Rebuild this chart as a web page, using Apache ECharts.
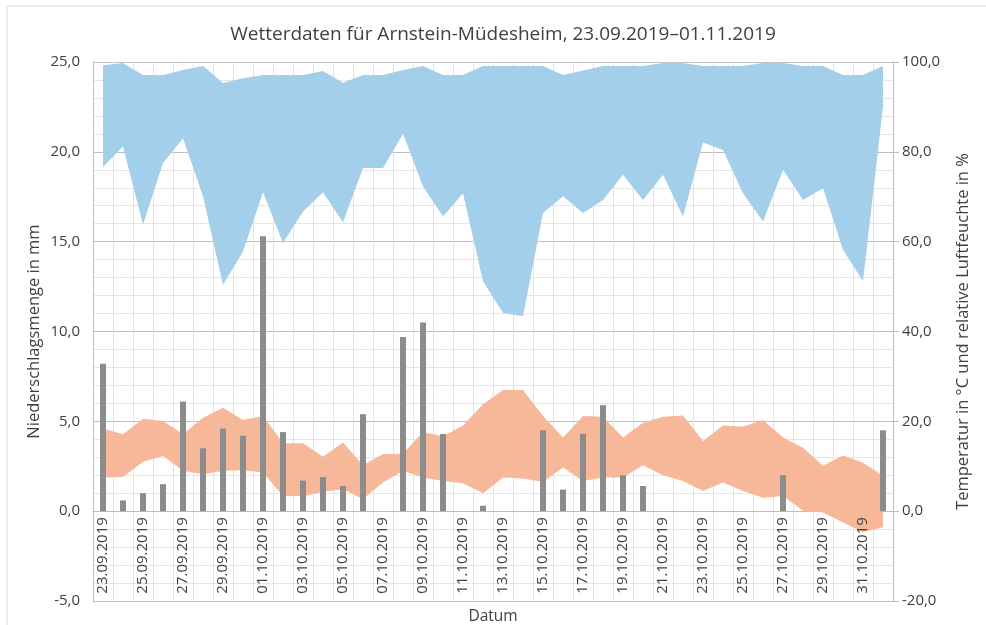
<!DOCTYPE html>
<html>
<head>
<meta charset="utf-8">
<script src="https://cdn.jsdelivr.net/npm/echarts@6/dist/echarts.min.js"></script>
<style>
html,body{margin:0;padding:0;background:#fff;}
#chart{width:986px;height:625px;}
</style>
</head>
<body>
<div id="chart"></div>
<script>
var dates = ['23.09.2019','24.09.2019','25.09.2019','26.09.2019','27.09.2019','28.09.2019','29.09.2019','30.09.2019',
  '01.10.2019','02.10.2019','03.10.2019','04.10.2019','05.10.2019','06.10.2019','07.10.2019','08.10.2019',
  '09.10.2019','10.10.2019','11.10.2019','12.10.2019','13.10.2019','14.10.2019','15.10.2019','16.10.2019',
  '17.10.2019','18.10.2019','19.10.2019','20.10.2019','21.10.2019','22.10.2019','23.10.2019','24.10.2019',
  '25.10.2019','26.10.2019','27.10.2019','28.10.2019','29.10.2019','30.10.2019','31.10.2019','01.11.2019'];

var precip = [8.2,0.6,1.0,1.5,6.1,3.5,4.6,4.2,15.3,4.4,1.7,1.9,1.4,5.4,0,9.7,10.5,4.3,0,0.3,
  0,0,4.5,1.2,4.3,5.9,2.0,1.4,0,0,0,0,0,0,2.0,0,0,0,0,4.5];

var tempMax = [18.4,17.1,20.6,20.1,17.1,20.8,23.0,20.3,21.2,15.1,15.1,12.1,15.3,10.2,12.7,12.8,17.6,16.7,19.1,23.8,
  27.0,27.0,21.2,16.4,21.2,21.0,16.4,19.7,21.0,21.3,15.6,19.1,18.8,20.3,16.4,14.1,10.1,12.4,10.8,7.9];

var tempMin = [7.5,7.6,11.0,12.3,9.0,8.2,9.0,9.1,8.6,3.4,3.3,4.3,4.9,2.7,6.4,9.0,7.5,6.7,6.2,4.0,
  7.5,7.3,6.5,9.7,6.7,7.5,7.5,10.2,8.0,6.7,4.5,6.4,4.5,3.0,3.4,0.1,-0.3,-2.5,-4.7,-3.6];

var humMax = [99.3,99.8,97.1,97.1,98.2,99.1,95.3,96.4,97.1,97.1,97.1,98.0,95.4,97.1,97.1,98.2,99.1,97.1,97.1,99.1,
  99.1,99.1,99.1,97.1,98.1,99.1,99.1,99.1,99.8,99.8,99.1,99.1,99.1,99.8,99.8,99.1,99.1,97.1,97.1,99.1];

var humMin = [76.6,81.2,63.8,77.5,83.0,70.1,50.4,57.8,71.0,59.7,66.7,71.0,64.3,76.4,76.4,84.0,72.3,65.6,70.8,51.2,
  44.1,43.4,66.4,70.1,66.4,69.3,74.9,69.3,74.9,65.6,82.1,80.4,70.8,64.5,76.0,69.3,71.9,58.2,51.2,90.1];

var leftTicks = {min: -5, max: 25, interval: 5};
var rightTicks = {min: -20, max: 100, interval: 20};

function diff(a, b) { return a.map(function (v, i) { return +(v - b[i]).toFixed(2); }); }
function fmt(v) { return v.toFixed(1).replace('.', ','); }

var FONT = 'Open Sans';
var TXT = '#404040';
var G = {left: 93, right: 93, top: 62, bottom: 24};
var plotH = 625 - G.top - G.bottom;
// move the category axis up from the bottom edge to the zero line of the left axis
var zeroOffset = -plotH * (0 - leftTicks.min) / (leftTicks.max - leftTicks.min);

var chart = echarts.init(document.getElementById('chart'), null, {renderer: 'canvas'});
chart.setOption({
  animation: false,
  backgroundColor: '#fff',
  textStyle: {fontFamily: FONT},
  title: {
    text: 'Wetterdaten für Arnstein-Müdesheim, 23.09.2019–01.11.2019',
    left: 498, textAlign: 'center', top: 20,
    textStyle: {fontFamily: FONT, fontSize: 19, fontWeight: 'normal', color: TXT}
  },
  graphic: [{
    type: 'rect', shape: {x: 7, y: 6, width: 1000, height: 700},
    style: {fill: 'none', stroke: '#d9d9d9', lineWidth: 1}, silent: true, z: -10
  }],
  grid: {left: G.left, right: G.right, top: G.top, bottom: G.bottom, containLabel: false, outerBoundsMode: 'none'},
  xAxis: [{
    type: 'category',
    data: dates,
    boundaryGap: true,
    position: 'bottom',
    offset: zeroOffset,
    z: 0,
    axisLine: {show: true, onZero: false, lineStyle: {color: '#bfbfbf', width: 1}},
    axisTick: {show: false},
    axisLabel: {show: false},
    splitLine: {show: true, interval: 0, lineStyle: {color: '#e3e3e3', width: 1}}
  }, {
    type: 'category',
    data: dates,
    boundaryGap: true,
    position: 'bottom',
    offset: zeroOffset,
    z: 10,
    name: 'Datum',
    nameLocation: 'middle',
    nameGap: 97,
    nameMoveOverlap: false,
    nameTextStyle: {fontFamily: FONT, fontSize: 15.5, color: TXT},
    axisLine: {show: false, onZero: false},
    axisTick: {show: false},
    axisLabel: {interval: 1, rotate: 90, fontSize: 15, color: TXT, margin: 6, fontFamily: FONT},
    splitLine: {show: false}
  }],
  yAxis: [{
    type: 'value',
    min: leftTicks.min, max: leftTicks.max, interval: leftTicks.interval,
    name: 'Niederschlagsmenge in mm',
    nameLocation: 'middle', nameGap: 50, nameRotate: 90, nameMoveOverlap: false,
    nameTextStyle: {fontFamily: FONT, fontSize: 16.5, color: TXT},
    axisLine: {show: true, lineStyle: {color: '#bfbfbf'}},
    axisTick: {show: false},
    axisLabel: {formatter: fmt, fontSize: 15, color: TXT, margin: 13, fontFamily: FONT},
    splitLine: {show: true, lineStyle: {color: '#bfbfbf', width: 1}},
    minorTick: {show: false, splitNumber: 5},
    minorSplitLine: {show: true, lineStyle: {color: '#e6e6e6', width: 1}}
  }, {
    type: 'value',
    min: rightTicks.min, max: rightTicks.max, interval: rightTicks.interval,
    name: 'Temperatur in °C und relative Luftfeuchte in %',
    nameLocation: 'middle', nameGap: 62, nameRotate: 90,
    nameTextStyle: {fontFamily: FONT, fontSize: 16.5, color: TXT},
    position: 'right',
    axisLine: {show: true, lineStyle: {color: '#bfbfbf'}},
    axisTick: {show: true, length: 6, inside: false, lineStyle: {color: '#bfbfbf'}},
    axisLabel: {formatter: fmt, fontSize: 15, color: TXT, margin: 9, fontFamily: FONT},
    splitLine: {show: false}
  }],
  series: [{
    name: 'humBase', type: 'line', xAxisIndex: 0, yAxisIndex: 1, stack: 'hum', stackStrategy: 'all',
    data: humMin, symbol: 'none', lineStyle: {opacity: 0}, silent: true, z: 1
  }, {
    name: 'Luftfeuchte', type: 'line', xAxisIndex: 0, yAxisIndex: 1, stack: 'hum', stackStrategy: 'all',
    data: diff(humMax, humMin), symbol: 'none', lineStyle: {opacity: 0},
    areaStyle: {color: '#a3cfea', opacity: 1}, silent: true, z: 1
  }, {
    name: 'tempBase', type: 'line', xAxisIndex: 0, yAxisIndex: 1, stack: 'temp', stackStrategy: 'all',
    data: tempMin, symbol: 'none', lineStyle: {opacity: 0}, silent: true, z: 2
  }, {
    name: 'Temperatur', type: 'line', xAxisIndex: 0, yAxisIndex: 1, stack: 'temp', stackStrategy: 'all',
    data: diff(tempMax, tempMin), symbol: 'none', lineStyle: {opacity: 0},
    areaStyle: {color: '#f7b899', opacity: 1}, silent: true, z: 2
  }, {
    name: 'Niederschlag', type: 'bar', xAxisIndex: 0, yAxisIndex: 0,
    data: precip, barWidth: 6, itemStyle: {color: '#8c8c8c'}, z: 3
  }]
});
</script>
</body>
</html>
